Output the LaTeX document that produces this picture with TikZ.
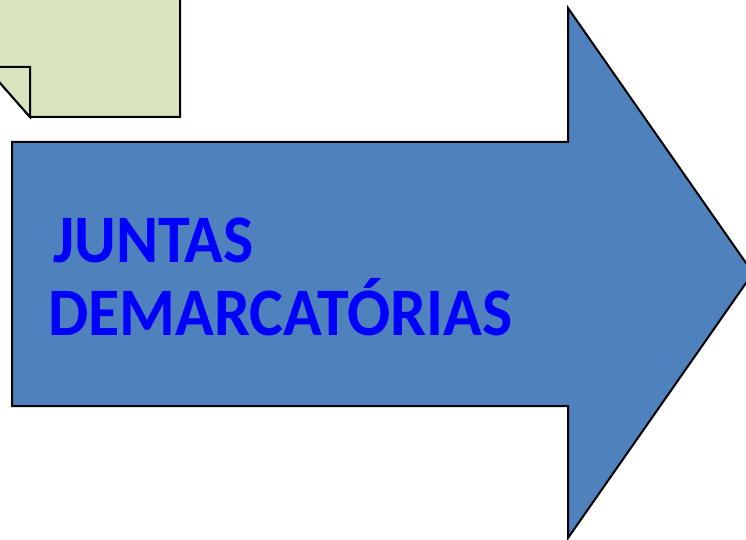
\documentclass[tikz,border=0pt]{standalone}
\usepackage{fontspec}
\newfontfamily\carlito[FakeStretch=0.94]{Carlito}
\usepackage{tikz}
\usetikzlibrary{positioning}
\definecolor{noteGreen}{HTML}{D7E4BD}
\definecolor{arrowBlue}{HTML}{4F81BD}
\definecolor{textBlue}{HTML}{0000FF}
\tikzset{
  note/.style={draw=black, line width=2pt, fill=noteGreen, line join=miter},
  bigarrow/.style={draw=black, line width=2pt, fill=arrowBlue, line join=miter},
  title/.style={text=textBlue, font=\carlito\bfseries\fontsize{68}{73}\selectfont, align=left, inner sep=0pt}
}
\begin{document}
\begin{tikzpicture}[x=1pt, y=-1pt]
  \useasboundingbox (0,0) rectangle (746,540);
  \begin{scope}
    \clip (0,0) rectangle (746,540);
    % sticky note with folded corner
    \draw[note] (-20,-20) -- (180,-20) -- (180,117) -- (30,117) -- (-14,67) -- (-20,67) -- cycle;
    \draw[note] (-14,67) -- (30,67) -- (30,117) -- cycle;
    % arrow
    \draw[bigarrow] (12,142) -- (568,142) -- (568,8) -- (753,273) -- (568,538) -- (568,406) -- (12,406) -- cycle;
  \end{scope}
  \node[title, anchor=base west] (label) at (48,335) {\hspace*{5pt}JUNTAS\\DEMARCATÓRIAS};
\end{tikzpicture}
\end{document}
